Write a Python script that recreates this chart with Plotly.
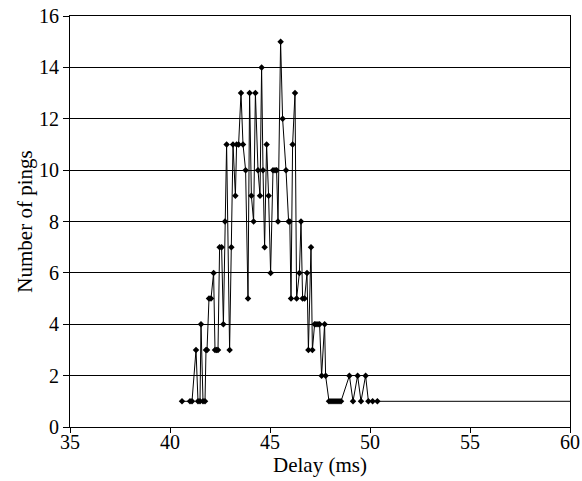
import plotly.graph_objects as go

# Delay (ms) of each non-empty bin, and number of pings in it
delay_ms = [
    40.60, 41.00, 41.10, 41.30, 41.40, 41.50, 41.55, 41.65, 41.75, 41.80,
    41.85, 41.95, 42.05, 42.18, 42.25, 42.33, 42.40, 42.48, 42.58, 42.67,
    42.75, 42.83, 42.98, 43.07, 43.15, 43.27, 43.33, 43.43, 43.55, 43.65,
    43.78, 43.90, 43.98, 44.07, 44.18, 44.27, 44.40, 44.50, 44.58, 44.65,
    44.73, 44.83, 44.93, 45.03, 45.15, 45.25, 45.33, 45.40, 45.53, 45.63,
    45.80, 45.93, 45.99, 46.05, 46.13, 46.25, 46.33, 46.47, 46.55, 46.63,
    46.73, 46.85, 46.92, 47.05, 47.12, 47.23, 47.30, 47.40, 47.48, 47.58,
    47.73, 47.78, 47.95, 48.05, 48.15, 48.25, 48.35, 48.45, 48.55, 48.97,
    49.15, 49.38, 49.55, 49.78, 49.92, 50.13, 50.37,
]
pings = [
    1, 1, 1, 3, 1, 1, 4, 1, 1, 3,
    3, 5, 5, 6, 3, 3, 3, 7, 7, 4,
    8, 11, 3, 7, 11, 9, 11, 11, 13, 11,
    10, 5, 13, 9, 8, 13, 10, 9, 14, 10,
    7, 11, 9, 6, 10, 10, 10, 8, 15, 12,
    10, 8, 8, 5, 11, 13, 5, 6, 8, 5,
    5, 6, 3, 7, 3, 4, 4, 4, 4, 2,
    4, 2, 1, 1, 1, 1, 1, 1, 1, 2,
    1, 2, 1, 2, 1, 1, 1,
]
# one far outlier beyond the visible range (line runs off the right edge)
outlier_delay = [70.0]
outlier_pings = [1]

x_ticks = [35, 40, 45, 50, 55, 60]
y_ticks = [0, 2, 4, 6, 8, 10, 12, 14, 16]

font = "Liberation Serif, Times New Roman, serif"

fig = go.Figure()
fig.add_trace(go.Scatter(
    x=delay_ms + outlier_delay,
    y=pings + outlier_pings,
    mode="lines",
    line=dict(color="black", width=1),
    hoverinfo="skip",
    showlegend=False,
))
fig.add_trace(go.Scatter(
    x=delay_ms,
    y=pings,
    mode="markers",
    marker=dict(color="black", size=5, symbol="diamond"),
    showlegend=False,
))

fig.update_layout(
    width=582, height=481,
    margin=dict(l=70, r=12, t=16, b=54),
    paper_bgcolor="white",
    plot_bgcolor="white",
    font=dict(family=font, size=20, color="black"),
    showlegend=False,
)
fig.update_xaxes(
    range=[35, 60],
    tickvals=x_ticks,
    ticktext=[str(v) for v in x_ticks],
    showgrid=False,
    zeroline=False,
    automargin=False,
    ticklabeloverflow="allow",
    showline=True, linecolor="black", linewidth=1, mirror=True,
    ticks="outside", ticklen=5, tickcolor="black",
    ticklabelstandoff=-8,
    tickfont=dict(size=20),
    title=dict(text="Delay (ms)", font=dict(size=21), standoff=2),
)
fig.update_yaxes(
    range=[0, 16],
    tickvals=y_ticks,
    ticktext=[str(v) for v in y_ticks],
    showgrid=True, gridcolor="black", gridwidth=1,
    zeroline=False,
    automargin=False,
    ticklabeloverflow="allow",
    showline=True, linecolor="black", linewidth=1, mirror=True,
    ticks="outside", ticklen=6, tickcolor="black",
    tickfont=dict(size=20),
    title=dict(text="Number of pings", font=dict(size=21), standoff=0),
)

fig.write_html(
    "out.html",
    config={"displayModeBar": False},
    post_script="document.body.style.margin='0';document.body.style.overflow='hidden';",
)
